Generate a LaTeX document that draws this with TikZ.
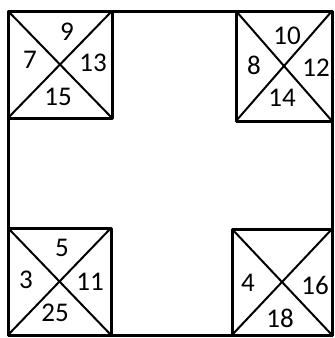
\documentclass[tikz,border=0pt]{standalone}
\usepackage{fontspec}
\setmainfont{Carlito}
\begin{document}
\begin{tikzpicture}[x=1pt,y=-1pt,
  frame/.style={line width=3pt,line join=round},
  diag/.style={line width=2pt},
  num/.style={font=\fontsize{27}{27}\selectfont,inner sep=0pt}]
\useasboundingbox (0,0) rectangle (335,338);
% outer frame
\coordinate (O1) at (8,11);
\coordinate (O2) at (332,335);
\draw[frame] (O1) rectangle (O2);
% top-left box
\coordinate (a1) at (8,11); \coordinate (a2) at (112,11);
\coordinate (a3) at (112,118); \coordinate (a4) at (8,118);
\draw[frame] (a1) -- (a2) -- (a3) -- (a4) -- cycle;
\draw[diag] (a1) -- (a3) (a2) -- (a4);
\node[num] (n9) at (67,32) {9};
\node[num] (n7) at (30,60) {7};
\node[num] (n13) at (93,63) {13};
\node[num] (n15) at (58,97) {15};
% top-right box
\coordinate (b1) at (236,11); \coordinate (b2) at (332,11);
\coordinate (b3) at (332,121); \coordinate (b4) at (236,121);
\draw[frame] (b1) -- (b2) -- (b3) -- (b4) -- cycle;
\draw[diag] (b1) -- (b3) (b2) -- (b4);
\node[num] (n10) at (287,36) {10};
\node[num] (n8) at (254,65) {8};
\node[num] (n12) at (316,68) {12};
\node[num] (n14) at (282,98) {14};
% bottom-left box
\coordinate (c1) at (8,228); \coordinate (c2) at (111,228);
\coordinate (c3) at (111,335); \coordinate (c4) at (8,335);
\draw[frame] (c1) -- (c2) -- (c3) -- (c4) -- cycle;
\draw[diag] (c1) -- (c3) (c2) -- (c4);
\node[num] (n5) at (62,248) {5};
\node[num] (n3) at (26,280) {3};
\node[num] (n11) at (90,282) {11};
\node[num] (n25) at (55,313) {25};
% bottom-right box
\coordinate (d1) at (232,229); \coordinate (d2) at (332,229);
\coordinate (d3) at (332,335); \coordinate (d4) at (232,335);
\draw[frame] (d1) -- (d2) -- (d3) -- (d4) -- cycle;
\draw[diag] (d1) -- (d3) (d2) -- (d4);
\node[num] (n4) at (248,283) {4};
\node[num] (n16) at (315,285) {16};
\node[num] (n18) at (280,318) {18};
\end{tikzpicture}
\end{document}
